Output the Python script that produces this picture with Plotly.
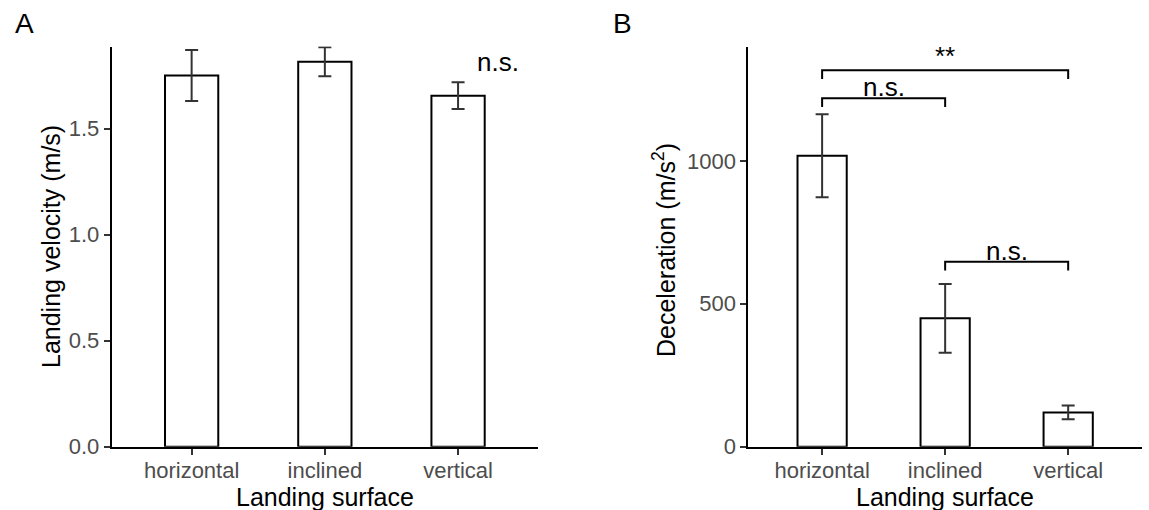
import plotly.graph_objects as go

# ---- data ----
surfaces = ["horizontal", "inclined", "vertical"]
velocity_mean = [1.75, 1.815, 1.655]
velocity_se = [0.12, 0.068, 0.063]
decel_mean = [1018, 449, 120]
decel_se = [145, 120, 24]
velocity_ticks = [0.0, 0.5, 1.0, 1.5]
decel_ticks = [0, 500, 1000]
# comparisons for panel B: (from, to, height, label)
decel_comparisons = [
    ("horizontal", "inclined", 1219, "n.s."),
    ("horizontal", "vertical", 1317, "**"),
    ("inclined", "vertical", 647, "n.s."),
]
velocity_label = "n.s."

FONT = "Liberation Sans, Arial, sans-serif"
W, H = 1149, 510

fig = go.Figure()

bar_style = dict(marker=dict(color="white", line=dict(color="black", width=2)),
                 width=0.4, showlegend=False, hoverinfo="skip")
err_style = dict(type="data", visible=True, color="#333333", thickness=2, width=6.5)

fig.add_trace(go.Bar(x=surfaces, y=velocity_mean,
                     error_y=dict(array=velocity_se, **err_style),
                     xaxis="x", yaxis="y", **bar_style))
fig.add_trace(go.Bar(x=surfaces, y=decel_mean,
                     error_y=dict(array=decel_se, **err_style),
                     xaxis="x2", yaxis="y2", **bar_style))

annotations = []
drop_frac = 0.022  # bracket leg as fraction of y-range
for a, b, h, lab in decel_comparisons:
    d = 1400 * drop_frac
    fig.add_trace(go.Scatter(x=[a, a, b, b], y=[h - d, h, h, h - d], mode="lines",
                             line=dict(color="black", width=2), xaxis="x2", yaxis="y2",
                             showlegend=False, hoverinfo="skip"))
    ia, ib = surfaces.index(a), surfaces.index(b)
    annotations.append(dict(x=(ia + ib) / 2, y=h, xref="x2", yref="y2", text=lab,
                            showarrow=False, xanchor="center", yanchor="bottom",
                            yshift=-6 if lab != "**" else -3,
                            font=dict(family=FONT, size=26, color="black")))

annotations.append(dict(x=2.3, y=1.77, xref="x", yref="y", text=velocity_label,
                        showarrow=False, xanchor="center", yanchor="bottom", yshift=-8,
                        font=dict(family=FONT, size=26, color="black")))

annotations.append(dict(x=13 / W, y=1 - 6 / H, xref="paper", yref="paper", text="A",
                        showarrow=False, xanchor="left", yanchor="top",
                        font=dict(family=FONT, size=28, color="black")))
annotations.append(dict(x=611 / W, y=1 - 6 / H, xref="paper", yref="paper", text="B",
                        showarrow=False, xanchor="left", yanchor="top",
                        font=dict(family=FONT, size=28, color="black")))

title_font = dict(family=FONT, size=25, color="black")
# axis titles
annotations.append(dict(x=1, y=1 - 497 / H, xref="x", yref="paper", text="Landing surface",
                        showarrow=False, xanchor="center", yanchor="middle", font=title_font))
annotations.append(dict(x=1, y=1 - 497 / H, xref="x2", yref="paper", text="Landing surface",
                        showarrow=False, xanchor="center", yanchor="middle", font=title_font))
annotations.append(dict(x=51 / W, y=1 - 247 / H, xref="paper", yref="paper",
                        text="Landing velocity (m/s)", textangle=-90,
                        showarrow=False, xanchor="center", yanchor="middle", font=title_font))
annotations.append(dict(x=664 / W, y=1 - 250 / H, xref="paper", yref="paper",
                        text="Deceleration (m/s<sup>2</sup>)", textangle=-90,
                        showarrow=False, xanchor="center", yanchor="middle", font=title_font))

ydom = [(510 - 446.7) / H, (510 - 46.5) / H]

xcommon = dict(type="category", range=[-0.6, 2.6], showline=True, linecolor="black",
               linewidth=2, ticks="outside", ticklen=6, tickwidth=2, tickcolor="#333333",
               tickfont=dict(family=FONT, size=22, color="#4D4D4D"), showgrid=False,
               zeroline=False, fixedrange=True, automargin=False, ticklabelstandoff=-3)
ycommon = dict(showline=True, linecolor="black", linewidth=2, ticks="outside", ticklen=6,
               tickwidth=2, tickcolor="#333333",
               tickfont=dict(family=FONT, size=22, color="#4D4D4D"), showgrid=False,
               zeroline=False, domain=ydom, automargin=False)

fig.update_layout(
    width=W, height=H,
    margin=dict(l=0, r=0, t=0, b=0),
    paper_bgcolor="white", plot_bgcolor="white",
    barmode="group",
    xaxis=dict(domain=[111.7 / W, 538 / W], anchor="y", **xcommon),
    yaxis=dict(range=[0, 1.887], tickvals=velocity_ticks, tickformat=".1f", anchor="x",
               **ycommon),
    xaxis2=dict(domain=[748.3 / W, 1142 / W], anchor="y2", **xcommon),
    yaxis2=dict(range=[0, 1400], tickvals=decel_ticks, anchor="x2", **ycommon),
    annotations=annotations,
)

fig.write_html("out.html")
